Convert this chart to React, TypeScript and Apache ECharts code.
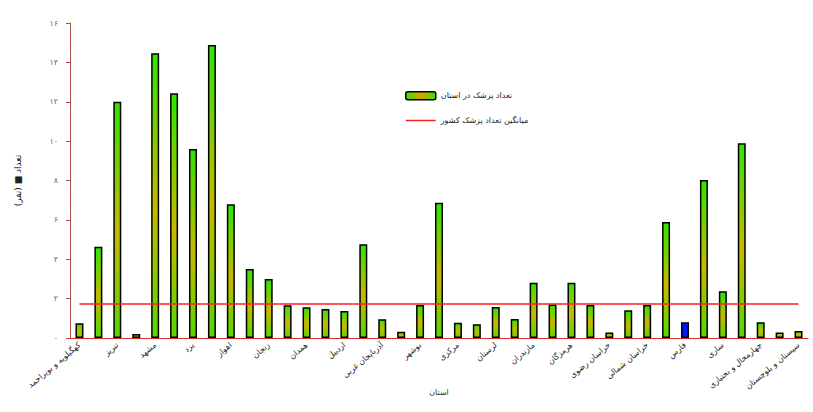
import React, { useEffect, useRef } from "react";
import * as echarts from "echarts";

const categories: string[] = [
  "کهگیلویه و بویراحمد", "تهران", "تبریز", "اصفهان", "مشهد", "شیراز", "یزد", "کرمان", "اهواز", "سمنان",
  "زنجان", "کرمانشاه", "همدان", "قزوین", "اردبیل", "کردستان", "آذربایجان غربی", "ایلام", "بوشهر", "قم",
  "مرکزی", "گیلان", "لرستان", "خوزستان", "مازندران", "گلستان", "هرمزگان", "البرز", "خراسان رضوی", "خراسان جنوبی",
  "خراسان شمالی", "کاشان", "فارس", "رشت", "ساری", "کرج", "چهارمحال و بختیاری", "بابل", "سیستان و بلوچستان",
];

const barValues: number[] = [
  0.75, 4.64, 12.0, 0.2, 14.46, 12.43, 9.6, 14.88, 6.79, 3.5,
  3.0, 1.66, 1.56, 1.47, 1.37, 4.76, 0.95, 0.32, 1.68, 6.87,
  0.78, 0.7, 1.57, 0.97, 2.81, 1.7, 2.81, 1.68, 0.28, 1.41,
  1.68, 5.89, 0.8, 8.03, 2.37, 9.89, 0.8, 0.28, 0.36,
];

const highlightIndex = 32;
const averageValue = 1.73;
const yTicks: string[] = ["۰", "۲", "۴", "۶", "۸", "۱۰", "۱۲", "۱۴", "۱۶"];

const barSeriesName = "تعداد پزشک در استان";
const lineSeriesName = "میانگین تعداد پزشک کشور";

export default function App() {
  const ref = useRef<HTMLDivElement>(null);
  useEffect(() => {
    if (!ref.current) return;
    const chart = echarts.init(ref.current, undefined, { renderer: "svg" });
    const grad = new echarts.graphic.LinearGradient(0, 0, 0, 1, [
      { offset: 0, color: "#2ee600" },
      { offset: 0.55, color: "#c8b800" },
      { offset: 1, color: "#55d800" },
    ]);
    const legendGrad = new echarts.graphic.LinearGradient(0, 0, 1, 0, [
      { offset: 0, color: "#2ee600" },
      { offset: 0.5, color: "#e0a000" },
      { offset: 1, color: "#2ee600" },
    ]);
    chart.setOption({
      animation: false,
      backgroundColor: "#ffffff",
      textStyle: { fontFamily: "DejaVu Sans" },
      grid: { left: 70, right: 5, top: 23, bottom: 74 },
      legend: {
        orient: "vertical",
        left: 400,
        top: 86,
        itemWidth: 30,
        itemHeight: 8,
        itemGap: 16,
        textStyle: { fontSize: 8, color: "#222" },
        data: [
          { name: barSeriesName, itemStyle: { color: legendGrad, borderColor: "#000", borderWidth: 1.5 } },
          {
            name: lineSeriesName,
            icon: "path://M0,0H30V1.5H0Z",
            itemStyle: { color: "#ff2020", borderWidth: 0 },
          },
        ],
      },
      xAxis: {
        type: "category",
        data: categories,
        name: "استان",
        nameLocation: "middle",
        nameGap: 50,
        nameMoveOverlap: false,
        nameTextStyle: { fontSize: 8, color: "#333" },
        axisLine: { lineStyle: { color: "#d03030", width: 1 } },
        axisTick: { interval: 0, length: 3, lineStyle: { color: "#d03030" } },
        axisLabel: { interval: 1, rotate: 40, fontSize: 8, color: "#222", margin: 6 },
      },
      yAxis: {
        type: "value",
        min: 0,
        max: 16,
        interval: 2,
        name: "تعداد ■ (نفر)",
        nameLocation: "middle",
        nameGap: 48,
        nameTextStyle: { fontSize: 9, color: "#222" },
        axisLine: { show: true, lineStyle: { color: "#b0504a", width: 1 } },
        axisTick: { show: true, length: 4, lineStyle: { color: "#b0504a" } },
        splitLine: { show: false },
        axisLabel: {
          fontSize: 8,
          color: "#666",
          margin: 12,
          formatter: (v: number) => yTicks[Math.round(v / 2)] ?? "",
        },
      },
      series: [
        {
          name: barSeriesName,
          type: "bar",
          barWidth: 8,
          data: barValues.map((v, i) =>
            i === highlightIndex
              ? { value: v, itemStyle: { color: "#0018ff", borderColor: "#000", borderWidth: 1.5 } }
              : v
          ),
          itemStyle: { color: grad, borderColor: "#000", borderWidth: 1.5 },
        },
        {
          name: lineSeriesName,
          type: "line",
          symbol: "none",
          showSymbol: false,
          data: categories.map(() => averageValue),
          lineStyle: { color: "#ff2020", width: 1.5 },
          itemStyle: { color: "#ff2020" },
          z: 5,
        },
      ],
    });
    return () => chart.dispose();
  }, []);
  return (
    <div
      ref={ref}
      style={{ position: "absolute", left: 0, top: 0, width: 813, height: 412 }}
    />
  );
}
